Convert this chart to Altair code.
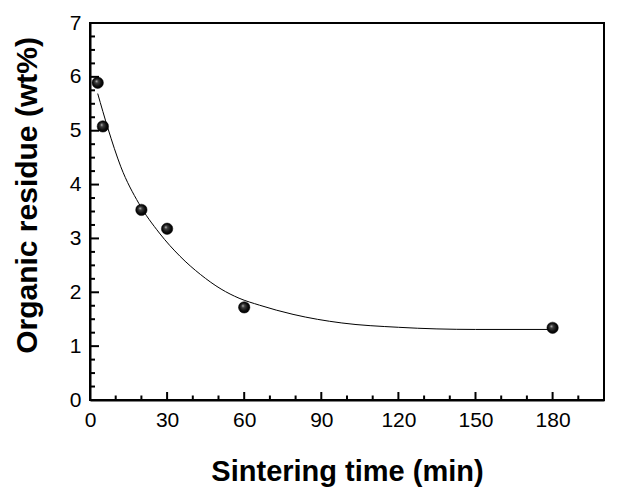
import altair as alt
import pandas as pd

# measured points
times = [3, 5, 20, 30, 60, 180]
residue = [5.89, 5.08, 3.53, 3.18, 1.72, 1.34]

# fitted curve
fit_x = [3, 7, 12, 19, 27, 35, 43, 51, 58, 66, 79, 98, 120, 150, 180]
fit_y = [5.69, 5.04, 4.33, 3.65, 3.10, 2.67, 2.33, 2.06, 1.89, 1.76, 1.59, 1.43, 1.35, 1.31, 1.31]

x_major = [0, 30, 60, 90, 120, 150, 180]
x_minor = [10, 20, 40, 50, 70, 80, 100, 110, 130, 140, 160, 170, 190]
y_major = [0, 1, 2, 3, 4, 5, 6, 7]
y_minor = [v / 4 for v in range(0, 28) if v % 4 != 0]

W, H = 514, 377
FONT = "Liberation Sans"

pts = pd.DataFrame({"t": times, "r": residue})
fit = pd.DataFrame({"t": fit_x, "r": fit_y})

xscale = alt.Scale(domain=[0, 200], nice=False, zero=False)
yscale = alt.Scale(domain=[0, 7], nice=False, zero=False)

xaxis = alt.Axis(values=x_major, format="d", ticks=False, tickSize=0, grid=False,
                 domainColor="black", domainWidth=2, labelPadding=9,
                 labelFontSize=21, labelFont=FONT, labelColor="black",
                 labelFlush=False, title="Sintering time (min)",
                 titleFont=FONT, titleFontSize=29, titleFontWeight="bold",
                 titleColor="black", titleX=257, titleY=80,
                 titleBaseline="alphabetic", titleAlign="center")
yaxis = alt.Axis(values=y_major, format="d", ticks=False, tickSize=0, grid=False,
                 domainColor="black", domainWidth=2, labelPadding=9,
                 labelFontSize=21, labelFont=FONT, labelColor="black",
                 labelFlush=False, title="Organic residue (wt%)",
                 titleFont=FONT, titleFontSize=30, titleFontWeight="bold",
                 titleColor="black", titleX=-54, titleY=172, titleAngle=270,
                 titleBaseline="alphabetic", titleAlign="center")

line = alt.Chart(fit).mark_line(color="black", strokeWidth=1, interpolate="monotone").encode(
    x=alt.X("t:Q", scale=xscale, axis=xaxis),
    y=alt.Y("r:Q", scale=yscale, axis=yaxis),
)

grad = {
    "gradient": "radial",
    "x1": 0.38, "y1": 0.35, "r1": 0.0,
    "x2": 0.5, "y2": 0.5, "r2": 0.55,
    "stops": [
        {"offset": 0.0, "color": "#c8c8c8"},
        {"offset": 0.25, "color": "#404040"},
        {"offset": 0.7, "color": "#080808"},
        {"offset": 1.0, "color": "#000000"},
    ],
}
points = alt.Chart(pts).mark_point(filled=True, fill=grad, shape="circle", size=130,
                                   opacity=1, stroke="black", strokeWidth=0.5).encode(
    x=alt.X("t:Q", scale=xscale),
    y=alt.Y("r:Q", scale=yscale),
)


def xticks(vals, ln):
    return alt.Chart(pd.DataFrame({"t": vals})).mark_rule(color="black", strokeWidth=2).encode(
        x=alt.X("t:Q", scale=xscale),
        y=alt.value(H), y2=alt.value(H - ln),
    )


def yticks(vals, ln):
    return alt.Chart(pd.DataFrame({"r": vals})).mark_rule(color="black", strokeWidth=2).encode(
        y=alt.Y("r:Q", scale=yscale),
        x=alt.value(0), x2=alt.value(ln),
    )


chart = alt.layer(
    line, xticks(x_major, 8), xticks(x_minor, 4.5), yticks(y_major, 9), yticks(y_minor, 5), points
).properties(
    width=W, height=H,
    autosize=alt.AutoSizeParams(type="none"),
    padding={"left": 82, "top": 15, "right": 10, "bottom": 90},
).configure_view(stroke="black", strokeWidth=2)

chart.save("out.html", embed_options={"renderer": "svg", "actions": False})
